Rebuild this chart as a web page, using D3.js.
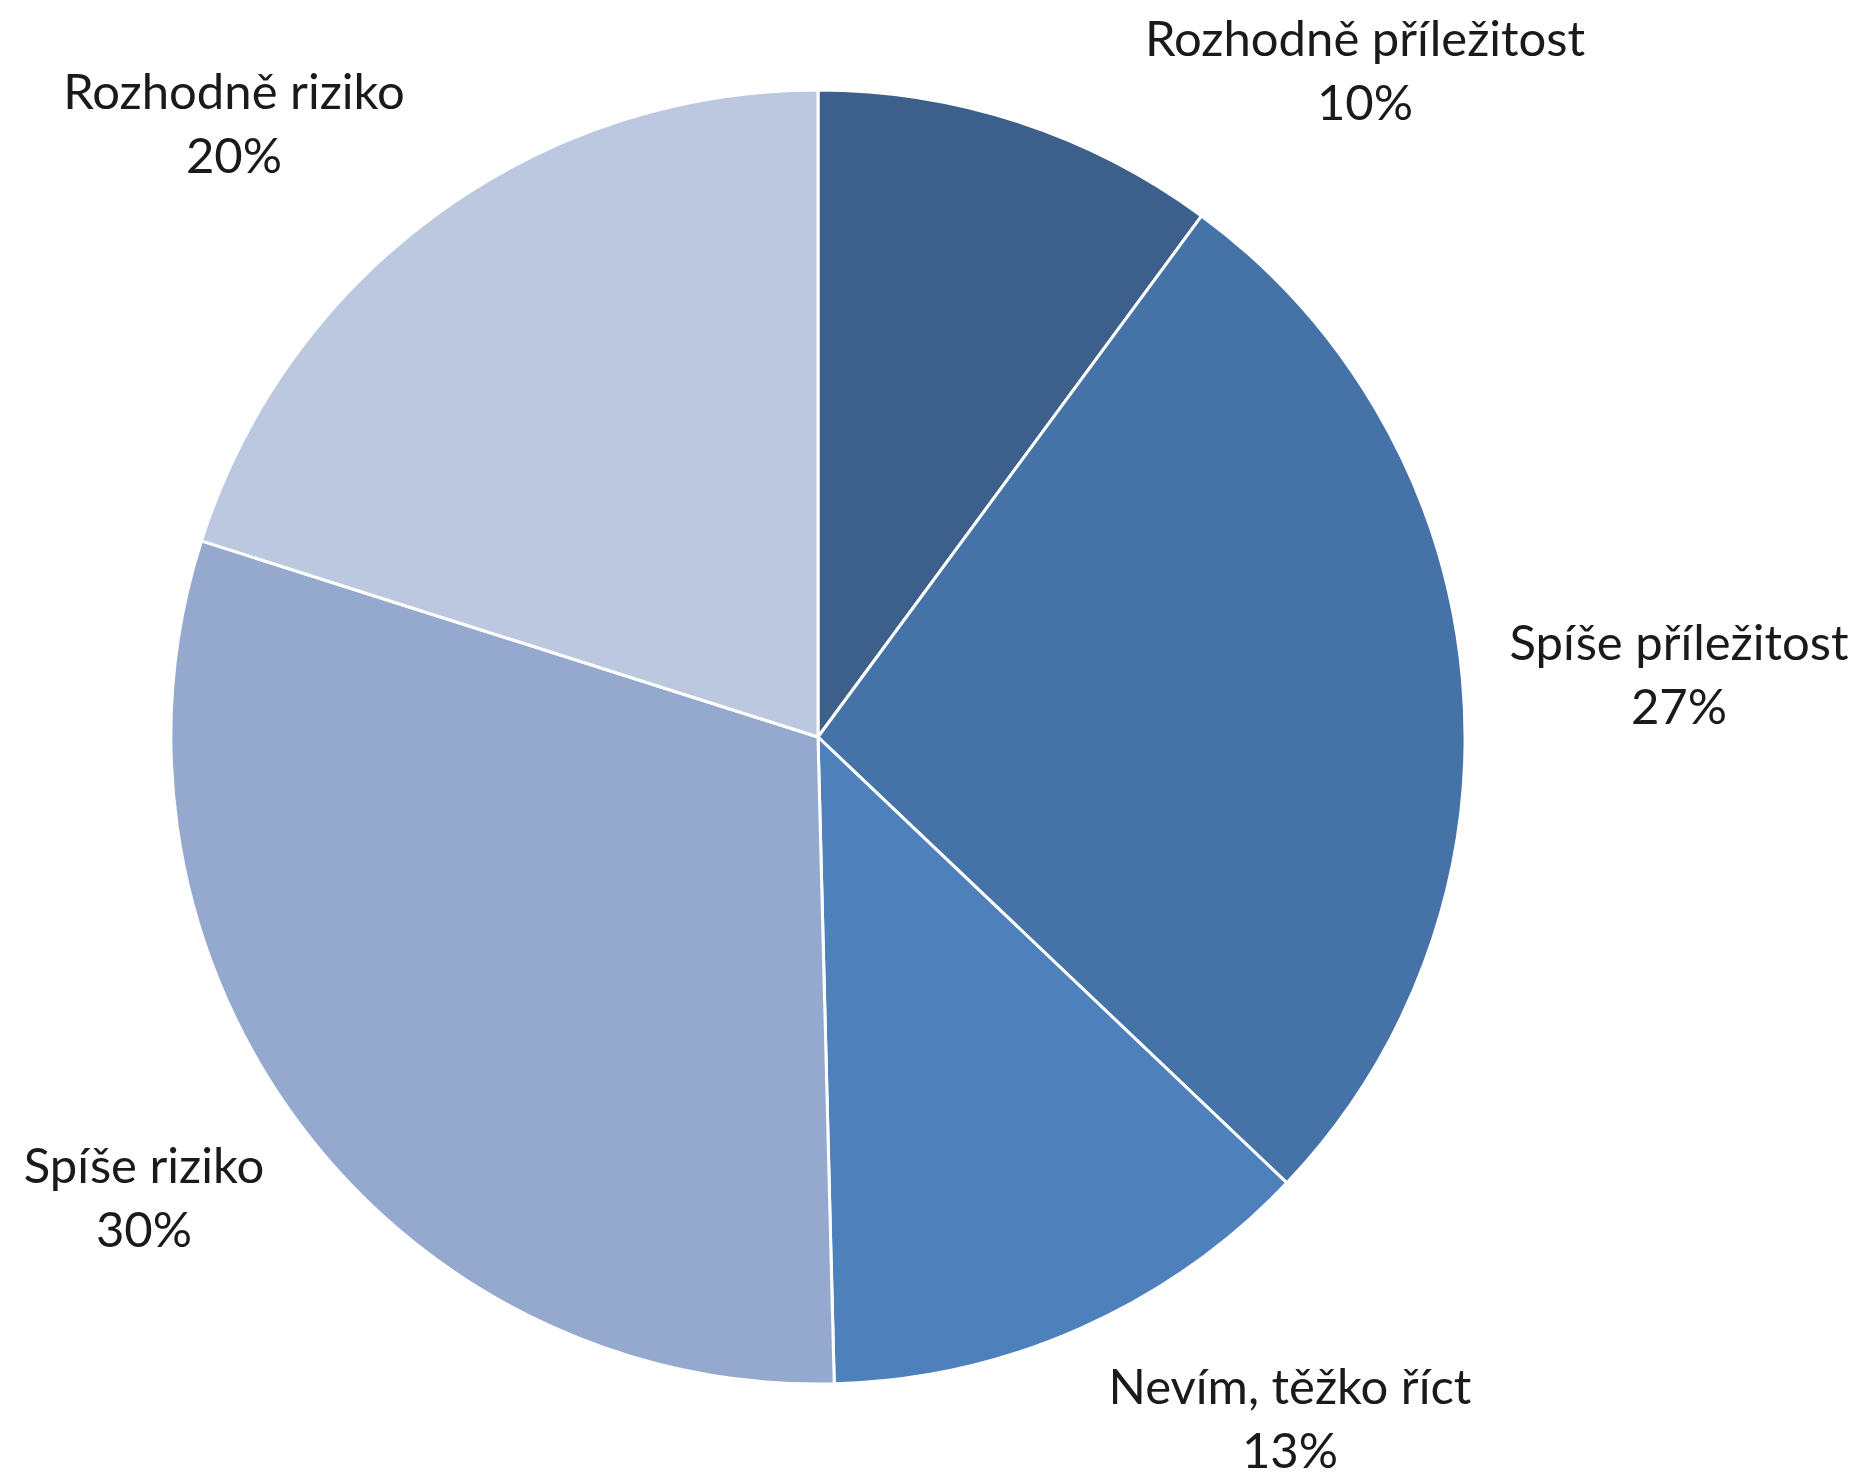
<!DOCTYPE html>
<html><head><meta charset="utf-8">
<script src="https://cdn.jsdelivr.net/npm/d3@7/dist/d3.min.js"></script>
<style>html,body{margin:0;padding:0;background:#fff;}svg{display:block;}</style>
</head><body>
<svg id="chart" width="1864" height="1481"></svg>
<script>
const categories = ["Rozhodně příležitost","Spíše příležitost","Nevím, těžko říct","Spíše riziko","Rozhodně riziko"];
const values = [10.1, 27.0, 12.5, 30.3, 20.1];
const colors = ["#3C5F8C","#4673A7","#4E80BB","#95A9CF","#BBC8E0"];
const labelPos = [[1365,56],[1679,660],[1290,1404],[144,1183],[234,109]];

const svg = d3.select("#chart");
const cx = 818, cy = 737, R = 647;
const data = categories.map((c,i)=>({name:c, value:values[i], color:colors[i], pos:labelPos[i]}));
const pie = d3.pie().sort(null).value(d=>d.value);
const arc = d3.arc().innerRadius(0).outerRadius(R);
const g = svg.append("g").attr("transform",`translate(${cx},${cy})`);
g.selectAll("path").data(pie(data)).join("path")
  .attr("d",arc).attr("fill",d=>d.data.color)
  .attr("stroke","#fff").attr("stroke-width",3).attr("stroke-linejoin","round");

const fs = 49;
const lab = svg.append("g").attr("font-family","Lato, 'Open Sans', sans-serif").attr("font-size",fs).attr("fill","#1a1a1a").attr("text-anchor","middle");
data.forEach(d=>{
  const t = lab.append("text").attr("x",d.pos[0]).attr("y",d.pos[1]);
  t.append("tspan").attr("x",d.pos[0]).text(d.name);
  t.append("tspan").attr("x",d.pos[0]).attr("dy",64).text(Math.round(d.value)+"%");
});
</script>
</body></html>
